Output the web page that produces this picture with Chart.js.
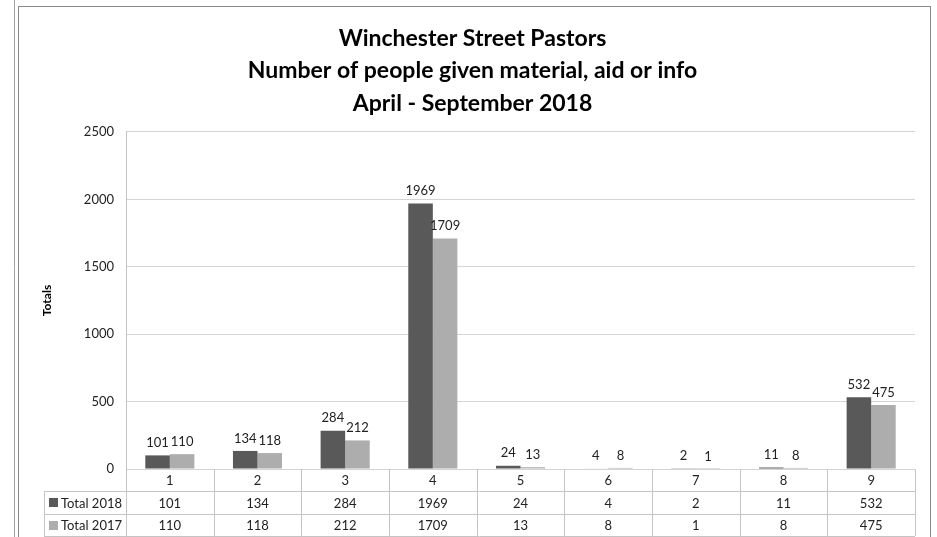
<!DOCTYPE html>
<html>
<head>
<meta charset="utf-8">
<script src="https://cdn.jsdelivr.net/npm/chart.js@4.4.1/dist/chart.umd.min.js"></script>
<style>
  html, body { margin: 0; padding: 0; background: #fff; }
  #wrap { position: relative; width: 937px; height: 537px; }
  canvas { display: block; }
</style>
</head>
<body>
<div id="wrap"><canvas id="c" width="937" height="537"></canvas></div>
<script>
const categories = ['1', '2', '3', '4', '5', '6', '7', '8', '9'];
const total2018 = [101, 134, 284, 1969, 24, 4, 2, 11, 532];
const total2017 = [110, 118, 212, 1709, 13, 8, 1, 8, 475];
const seriesNames = ['Total 2018', 'Total 2017'];
const titleLines = ['Winchester Street Pastors', 'Number of people given material, aid or info', 'April - September 2018'];
const yAxisTitle = 'Totals';
const yTickValues = [0, 500, 1000, 1500, 2000, 2500];

const COLORS = ['#595959', '#adadad'];
const FONT = 'Lato, "Open Sans", sans-serif';
const LINE = '#c4c4c4';

const framePlugin = {
  id: 'frame',
  beforeDraw(chart) {
    const ctx = chart.ctx;
    ctx.save();
    ctx.fillStyle = '#fff';
    ctx.fillRect(0, 0, chart.width, chart.height);
    ctx.strokeStyle = '#a0a0a0';
    ctx.lineWidth = 1;
    ctx.beginPath();
    ctx.moveTo(14.5, 0); ctx.lineTo(14.5, chart.height);
    ctx.stroke();
    ctx.strokeStyle = '#8a8a8a';
    ctx.strokeRect(18.5, 6.5, 912, chart.height + 10);
    ctx.restore();
  }
};

const labelPlugin = {
  id: 'barLabels',
  afterDatasetsDraw(chart) {
    const ctx = chart.ctx;
    ctx.save();
    ctx.font = '13px ' + FONT;
    ctx.fillStyle = '#222';
    ctx.textAlign = 'center';
    ctx.textBaseline = 'bottom';
    chart.data.datasets.forEach((ds, di) => {
      const meta = chart.getDatasetMeta(di);
      meta.data.forEach((bar, i) => {
        ctx.fillText(String(ds.data[i]), bar.x, bar.y - 6);
      });
    });
    ctx.restore();
  }
};

const tablePlugin = {
  id: 'dataTable',
  afterDraw(chart) {
    const ctx = chart.ctx;
    const area = chart.chartArea;
    const xs = chart.scales.x;
    const n = categories.length;
    const colW = (area.right - area.left) / n;
    const rowH = 22.3;
    const top = area.bottom;
    const legendLeft = 44;
    ctx.save();
    ctx.strokeStyle = LINE;
    ctx.lineWidth = 1;
    ctx.beginPath();
    for (let r = 1; r <= 3; r++) {
      const y = Math.round(top + r * rowH) + 0.5;
      ctx.moveTo(legendLeft, y); ctx.lineTo(area.right, y);
    }
    for (let i = 0; i <= n; i++) {
      const x = Math.round(area.left + i * colW) + 0.5;
      ctx.moveTo(x, top); ctx.lineTo(x, top + 3 * rowH);
    }
    const y1 = Math.round(top + rowH) + 0.5;
    ctx.moveTo(legendLeft + 0.5, y1); ctx.lineTo(legendLeft + 0.5, top + 3 * rowH);
    ctx.stroke();

    ctx.font = '13px ' + FONT;
    ctx.fillStyle = '#222';
    ctx.textAlign = 'center';
    ctx.textBaseline = 'middle';
    categories.forEach((c, i) => {
      const cx = xs.getPixelForValue(i);
      ctx.fillText(c, cx, top + rowH * 0.5 + 1);
    });
    chart.data.datasets.forEach((ds, di) => {
      const cy = top + rowH * (di + 1.5) + 1;
      ds.data.forEach((v, i) => {
        ctx.fillText(String(v), xs.getPixelForValue(i), cy);
      });
      ctx.fillStyle = ds.backgroundColor;
      ctx.fillRect(legendLeft + 5, Math.round(cy - 5), 9, 9);
      ctx.fillStyle = '#222';
      ctx.textAlign = 'left';
      ctx.fillText(seriesNames[di], legendLeft + 17, cy);
      ctx.textAlign = 'center';
    });
    ctx.restore();
  }
};

new Chart(document.getElementById('c'), {
  type: 'bar',
  data: {
    labels: categories,
    datasets: [
      { label: seriesNames[0], data: total2018, backgroundColor: COLORS[0], borderWidth: 0 },
      { label: seriesNames[1], data: total2017, backgroundColor: COLORS[1], borderWidth: 0 }
    ]
  },
  options: {
    responsive: false,
    animation: false,
    devicePixelRatio: 1,
    layout: { padding: { left: 30, right: 22, top: 0, bottom: 1 } },
    datasets: { bar: { barPercentage: 1.0, categoryPercentage: 0.56 } },
    plugins: {
      legend: { display: false },
      tooltip: { enabled: false },
      title: {
        display: true,
        text: titleLines,
        color: '#000',
        font: { family: FONT, size: 23, weight: 'bold', lineHeight: 1.42 },
        padding: { top: 22, bottom: 12 }
      }
    },
    scales: {
      x: {
        grid: { display: false },
        border: { display: false },
        ticks: { display: false },
        afterFit(scale) { scale.height = 67; }
      },
      y: {
        min: 0,
        max: 2500,
        afterBuildTicks(scale) { scale.ticks = yTickValues.map(v => ({ value: v })); },
        ticks: { color: '#222', font: { family: FONT, size: 13 }, padding: 12, callback: (v) => String(v) },
        grid: { color: '#d4d4d4', drawTicks: false },
        border: { display: true, color: LINE },
        title: { display: true, text: yAxisTitle, color: '#000', font: { family: FONT, size: 12, weight: 'bold' }, padding: { top: 10, bottom: 0 } },
        afterFit(scale) { scale.width = 96; }
      }
    }
  },
  plugins: [framePlugin, labelPlugin, tablePlugin]
});
</script>
</body>
</html>
